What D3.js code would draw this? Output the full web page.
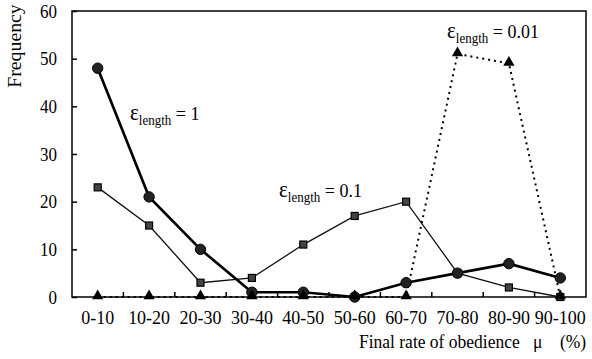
<!DOCTYPE html>
<html>
<head>
<meta charset="utf-8">
<script src="https://cdn.jsdelivr.net/npm/d3@7"></script>
<style>
  html, body { margin: 0; padding: 0; background: #fff; }
  svg { display: block; }
  svg text { font-family: 'Liberation Serif', 'Times New Roman', Times, 'DejaVu Serif', serif !important; fill: #000; }
</style>
</head>
<body>
<svg id="chart" width="592" height="359"></svg>
<script>
// Frequency of the final rate of obedience for three values of ε_length
const categories = ["0-10", "10-20", "20-30", "30-40", "40-50", "50-60", "60-70", "70-80", "80-90", "90-100"];
const eps1 = [48, 21, 10, 1, 1, 0, 3, 5, 7, 4];        // ε_length = 1
const eps01 = [23, 15, 3, 4, 11, 17, 20, 5, 2, 0];     // ε_length = 0.1
const eps001 = [0, 0, 0, 0, 0, 0, 0, 51, 49, 0];       // ε_length = 0.01
const yTicks = [0, 10, 20, 30, 40, 50, 60];
const seriesLabels = [
  { value: "1", series: "eps1" },
  { value: "0.1", series: "eps01" },
  { value: "0.01", series: "eps001" }
];

const FONT = "'Liberation Serif', 'Times New Roman', serif";
const SY = 1.1;   // glyphs are drawn a little taller than wide
const FSY = 17;   // y tick label size
const FSX = 18;   // category label size

const svg = d3.select("#chart");
const m = { left: 72, right: 6, top: 11, bottom: 62 };
const W = 592, H = 359;
const x0 = m.left, x1 = W - m.right, y0 = H - m.bottom, y1 = m.top;

const x = d3.scaleBand().domain(categories).range([x0, x1]);
const y = d3.scaleLinear().domain([0, 60]).range([y0, y1]);
const cx = c => x(c) + x.bandwidth() / 2;

// move a text's baseline position into a transform so it can be stretched vertically
function stretch(sel, baselineShift) {
  sel.each(function () {
    const t = d3.select(this);
    const tx = +t.attr("x") || 0;
    const ty = (+t.attr("y") || 0) + baselineShift;
    t.attr("x", null).attr("y", null).attr("dy", null)
      .attr("transform", `translate(${tx},${ty}) scale(1,${SY})`);
  });
}

// frame
svg.append("rect")
  .attr("x", x0).attr("y", y1)
  .attr("width", x1 - x0).attr("height", y0 - y1)
  .attr("fill", "none").attr("stroke", "#000").attr("stroke-width", 1.5);

// y axis with inward ticks
const yAxis = d3.axisLeft(y).tickValues(yTicks).tickSize(-5).tickPadding(15);
const gy = svg.append("g").attr("transform", `translate(${x0},0)`).call(yAxis)
  .attr("font-family", FONT).attr("font-size", FSY);
gy.select(".domain").remove();
gy.selectAll(".tick line").attr("stroke", "#000").attr("stroke-width", 1.5);
gy.selectAll(".tick text").style("font-family", FONT).style("font-size", FSY + "px")
  .call(stretch, 0.33 * FSY * SY);

// x axis: category labels, ticks on the boundaries pointing up
const xAxis = d3.axisBottom(x).tickSize(0).tickPadding(27);
const gx = svg.append("g").attr("transform", `translate(0,${y0})`).call(xAxis)
  .attr("font-family", FONT).attr("font-size", FSX);
gx.select(".domain").remove();
gx.selectAll(".tick text").style("font-family", FONT).style("font-size", FSX + "px")
  .call(stretch, 0);
svg.append("g").selectAll("line")
  .data(categories.slice(1))
  .join("line")
  .attr("x1", d => x(d)).attr("x2", d => x(d))
  .attr("y1", y0).attr("y2", y0 - 5)
  .attr("stroke", "#000").attr("stroke-width", 1.5);

// series lines
const line = d3.line().x((d, i) => cx(categories[i])).y(d => y(d));

svg.append("path").datum(eps001)
  .attr("d", line).attr("fill", "none")
  .attr("stroke", "#000").attr("stroke-width", 2)
  .attr("stroke-dasharray", "2,4");

svg.append("path").datum(eps01)
  .attr("d", line).attr("fill", "none")
  .attr("stroke", "#111").attr("stroke-width", 1.3);

svg.append("path").datum(eps1)
  .attr("d", line).attr("fill", "none")
  .attr("stroke", "#000").attr("stroke-width", 2.7);

// markers
svg.append("g").selectAll("rect")
  .data(eps01).join("rect")
  .attr("x", (d, i) => cx(categories[i]) - 3.5)
  .attr("y", d => y(d) - 3.5)
  .attr("width", 7).attr("height", 7)
  .attr("fill", "#444").attr("stroke", "#000").attr("stroke-width", 1.2);

svg.append("g").selectAll("circle")
  .data(eps1).join("circle")
  .attr("cx", (d, i) => cx(categories[i]))
  .attr("cy", d => y(d))
  .attr("r", 5.2)
  .attr("fill", "#222").attr("stroke", "#000").attr("stroke-width", 1);

const tri = d3.symbol().type(d3.symbolTriangle).size(55);
svg.append("g").selectAll("path")
  .data(eps001).join("path")
  .attr("d", tri)
  .attr("transform", (d, i) => `translate(${cx(categories[i])},${y(d) - 1})`)
  .attr("fill", "#000");

// series annotations: ε with subscript "length"
const labelPos = { eps1: [130, 120], eps01: [279, 197], eps001: [447, 38] };
seriesLabels.forEach(s => {
  const [lx, ly] = labelPos[s.series];
  const t = svg.append("text")
    .attr("transform", `translate(${lx},${ly}) scale(1,${SY})`)
    .style("font-family", FONT).style("font-size", "18px");
  t.append("tspan").text("ε").style("font-size", "21px");
  t.append("tspan").text("length").style("font-size", "13px").attr("dy", 4.5);
  t.append("tspan").text(" = " + s.value).attr("dy", -4.5);
});

// axis titles
svg.append("text")
  .attr("transform", `translate(21,46) rotate(-90) scale(${SY},1)`)
  .attr("text-anchor", "middle")
  .style("font-family", FONT).style("font-size", "18px")
  .text("Frequency");

const xt = svg.append("text")
  .attr("transform", `translate(0,348) scale(1,${SY})`)
  .style("font-family", FONT).style("font-size", "17.5px");
xt.append("tspan").attr("x", 359).text("Final rate of obedience");
xt.append("tspan").attr("x", 533).text("μ");
xt.append("tspan").attr("x", 560).text("(%)");
</script>
</body>
</html>
